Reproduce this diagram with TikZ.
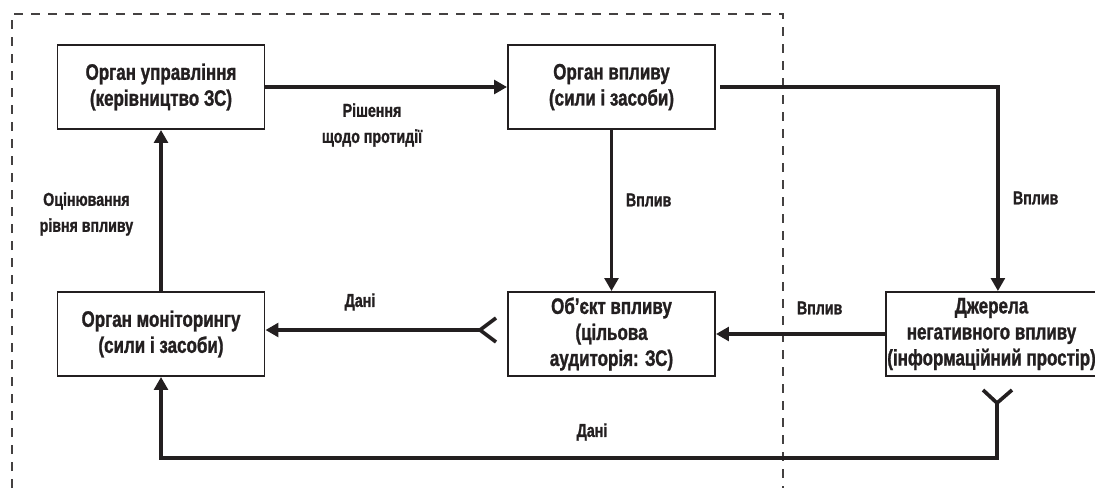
\documentclass[tikz,border=0pt]{standalone}
\usepackage{fontspec}
\setmainfont{Liberation Sans}[FakeStretch=0.76, BoldFeatures={FakeBold=1.2}]
\usetikzlibrary{arrows.meta, positioning, calc}
\definecolor{inkblack}{RGB}{35, 31, 32}
\tikzset{
    block/.style={draw=inkblack, rectangle, line width=1.4pt, minimum width=5.175cm, minimum height=2.1cm, inner sep=1pt, font=\fontsize{15.9}{18.5}\selectfont\bfseries, align=center, text=inkblack, fill=white},
    flow/.style={-{Triangle[length=3.2mm, width=3.4mm]}, line width=2.8pt, draw=inkblack},
    fork/.style={line width=2.6pt, draw=inkblack},
    tag/.style={font=\fontsize{13.3}{18.5}\selectfont\bfseries, align=center, text=inkblack},
    borderline/.style={draw=inkblack!85, line width=0.8pt, dash pattern=on 0.225cm off 0.2cm},
}
\begin{document}
\begin{tikzpicture}
    \useasboundingbox (0, 0) rectangle (27.375, 12.2);

    % dashed frame
    \draw[borderline] (0.3, 0) -- (0.3, 11.85) -- (19.575, 11.85) -- (19.575, 0);

    % === blocks ===
    \node[block] (ctrl) at (4.025, 10.025) {Орган управління\\(керівництво ЗС)};
    \node[block] (infl) at (15.2875, 10.025) {Орган впливу\\(сили і засоби)};
    \node[block] (mon) at (4.025, 3.85) {Орган моніторингу\\(сили і засоби)};
    \node[block] (obj) at (15.2875, 3.85) {Об’єкт впливу\\(цільова\\аудиторія: ЗС)};
    \node[block] (src) at (24.7875, 3.85) {Джерела\\негативного впливу\\(інформаційний простір)};

    % fork points
    \coordinate (vobj) at (12.0, 3.95);
    \coordinate (vsrc) at (24.925, 2.125);
    \coordinate (turn) at (24.925, 0.75);

    % === connectors ===
    \draw[flow] (ctrl) -- (infl);
    \draw[flow] ([xshift=3pt]infl.east) -| ([xshift=0.16cm]src.north);
    \draw[flow] (infl) -- (obj);
    \draw[flow] (src) -- (obj);
    \draw[flow] (vobj) -- (vobj -| mon.east);
    \draw[fork] ($(vobj)+(0.4, 0.3)$) -- (vobj) -- ($(vobj)+(0.4, -0.3)$);
    \draw[flow] (vsrc) -- (turn) -| (mon.south);
    \draw[fork] ($(vsrc)+(-0.35, 0.325)$) -- (vsrc) -- ($(vsrc)+(0.375, 0.325)$);
    \draw[flow] (mon) -- (ctrl);

    % === labels ===
    \node[tag] (decision) at (9.3, 9.075) {Рішення\\щодо протидії};
    \node[tag] (assess) at (2.16, 6.85) {Оцінювання\\рівня впливу};
    \node[tag, anchor=west] (impactmid) at (15.525, 7.2) {Вплив};
    \node[tag, anchor=west] (impactright) at (25.2, 7.25) {Вплив};
    \node[tag] (dataupper) at (9.0, 4.65) {Дані};
    \node[tag, anchor=west] (impactsrc) at (19.8, 4.5) {Вплив};
    \node[tag] (datalower) at (14.8, 1.4) {Дані};
\end{tikzpicture}
\end{document}
